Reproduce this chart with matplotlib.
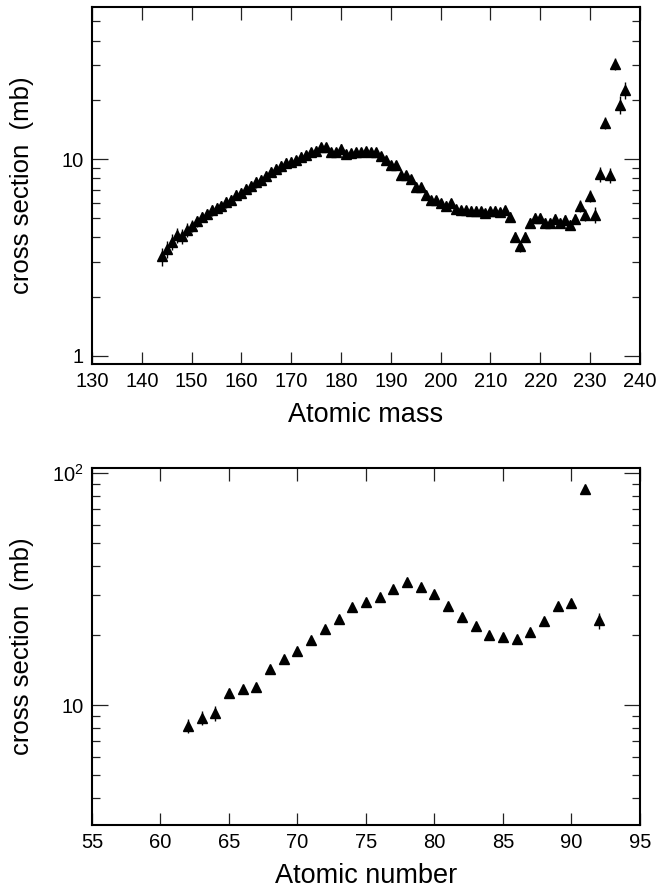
import numpy as np
import matplotlib
matplotlib.use('Agg')
import matplotlib.pyplot as plt
from matplotlib.ticker import FixedLocator, FixedFormatter, LogLocator, NullFormatter

plt.rcParams['font.family'] = ['Liberation Sans', 'DejaVu Sans']
plt.rcParams['mathtext.default'] = 'regular'

# top panel: cross section vs atomic mass
mass = list(range(144, 238))
sigma_mass = [
    3.2, 3.5, 3.8, 4.1, 4.05, 4.37, 4.59, 4.83, 5.07, 5.27,
    5.48, 5.64, 5.80, 6.02, 6.21, 6.59, 6.72, 7.04, 7.26, 7.61,
    7.85, 8.23, 8.6, 8.95, 9.17, 9.55, 9.66, 9.92, 10.3, 10.5,
    10.9, 11.05, 11.5, 11.5, 10.9, 10.9, 11.3, 10.6, 10.7, 10.8,
    10.9, 11.0, 10.9, 10.8, 10.4, 9.85, 9.35, 9.3, 8.32, 8.32,
    7.9, 7.2, 7.22, 6.59, 6.2, 6.17, 5.98, 5.8, 5.95, 5.58,
    5.53, 5.53, 5.47, 5.47, 5.42, 5.32, 5.42, 5.47, 5.38, 5.48,
    5.07, 4.03, 3.6, 4.03, 4.76, 5.02, 5.02, 4.73, 4.73, 4.96,
    4.76, 4.9, 4.64, 4.96, 5.8, 5.22, 6.5, 5.22, 8.4, 15.3,
    8.3, 30.4, 18.9, 22.5,
]
relerr_mass = (
    [0.11, 0.10, 0.09, 0.09, 0.09, 0.08, 0.07]
    + [0.06] * 20
    + [0.05] * 43
    + [0.06] * 14
    + [0.07, 0.07, 0.07, 0.09, 0.09, 0.07, 0.09, 0.07, 0.10, 0.10]
)

# bottom panel: cross section vs atomic number
charge = list(range(62, 93))
sigma_charge = [
    8.15, 8.85, 9.24, 11.25, 11.8, 12.0, 14.3, 15.85, 17.1, 19.2,
    21.4, 23.6, 26.6, 28.0, 29.4, 31.8, 34.1, 32.4, 30.2, 26.9,
    23.9, 21.9, 20.0, 19.7, 19.3, 20.6, 23.0, 26.8, 27.7, 85.7,
    23.2,
]
relerr_charge = [0.07, 0.07, 0.07] + [0.03] * 27 + [0.08]


def style_axes(ax, ylabels_at, ylabels):
    ax.set_yscale('log')
    for side in ['left', 'right', 'top', 'bottom']:
        ax.spines[side].set_linewidth(1.5)
    ax.tick_params(axis='both', which='both', direction='in',
                   top=True, right=True, labelsize=14.5, width=0.9,
                   color='#222222', pad=6)
    ax.tick_params(axis='x', which='major', length=9)
    ax.tick_params(axis='y', which='major', length=11.5)
    ax.tick_params(axis='y', which='minor', length=5.5)
    ax.yaxis.set_major_locator(FixedLocator(ylabels_at))
    ax.yaxis.set_major_formatter(FixedFormatter(ylabels))
    ax.yaxis.set_minor_locator(LogLocator(base=10, subs=np.arange(2, 10)))
    ax.yaxis.set_minor_formatter(NullFormatter())


fig = plt.figure(figsize=(6.57, 8.91), dpi=100)

ax1 = fig.add_axes([0.140, 0.5915, 0.834, 0.4003])
s = np.array(sigma_mass)
ax1.errorbar(mass, s, yerr=s * np.array(relerr_mass), fmt='^', color='black',
             ms=6.5, elinewidth=1.0, capsize=0)
style_axes(ax1, [1, 10], ['1', '10'])
ax1.set_xlim(130, 240)
ax1.set_ylim(0.91, 59)
ax1.set_xticks(np.arange(130, 241, 10))
ax1.set_xlabel('Atomic mass', fontsize=19.5, labelpad=8)
ax1.set_ylabel('cross section  (mb)', fontsize=18.5)
ax1.yaxis.set_label_coords(-0.105, 0.5)

ax2 = fig.add_axes([0.140, 0.0741, 0.834, 0.4003])
s = np.array(sigma_charge)
ax2.errorbar(charge, s, yerr=s * np.array(relerr_charge), fmt='^', color='black',
             ms=6.5, elinewidth=1.0, capsize=0)
style_axes(ax2, [10, 100], ['10', r'$10^{2}$'])
ax2.set_xlim(55, 95)
ax2.set_ylim(3.05, 105)
ax2.set_xticks(np.arange(55, 96, 5))
ax2.set_xlabel('Atomic number', fontsize=19.5, labelpad=8)
ax2.set_ylabel('cross section  (mb)', fontsize=18.5)
ax2.yaxis.set_label_coords(-0.105, 0.5)

fig.savefig('out.png', dpi=100)
